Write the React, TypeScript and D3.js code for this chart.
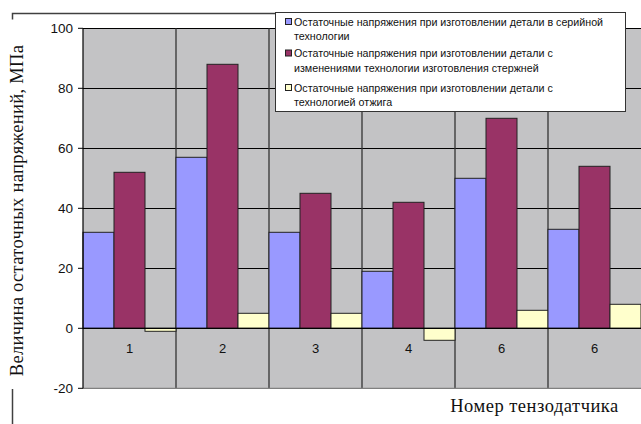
import React from "react";
import * as d3 from "d3";

const categories = ["1", "2", "3", "4", "6", "6"];
const serial = [32, 57, 32, 19, 50, 33];
const rods = [52, 88, 45, 42, 70, 54];
const annealing = [-1, 5, 5, -4, 6, 8];
const yTicks = [-20, 0, 20, 40, 60, 80, 100];

const seriesNames = [
  ["Остаточные напряжения при изготовлении детали в серийной", "технологии"],
  ["Остаточные напряжения при изготовлении детали с", "изменениями технологии изготовления стержней"],
  ["Остаточные напряжения при изготовлении детали с", "технологией отжига"],
];
const seriesColors = ["#9999FF", "#993366", "#FFFFCC"];
const seriesValues = [serial, rods, annealing];

const yTitle = "Величина остаточных напряжений, МПа";
const xTitle = "Номер тензодатчика";

const W = 641;
const H = 424;
const plot = { left: 83, right: 641, top: 28.3, bottom: 388.3 };

export default function App() {
  const y = d3.scaleLinear().domain([-20, 100]).range([plot.bottom, plot.top]);
  const x = d3
    .scaleBand<number>()
    .domain(categories.map((_, i) => i))
    .range([plot.left, plot.right])
    .padding(0);
  const xs = d3
    .scaleBand<number>()
    .domain(seriesValues.map((_, i) => i))
    .range([0, x.bandwidth()])
    .padding(0);

  const sans = "Arial, 'Liberation Sans', sans-serif";
  const serif = "'Times New Roman', 'Liberation Serif', serif";

  const boundaries = categories.map((_, i) => x(i)!).concat([plot.right]);

  return (
    <svg
      width={W}
      height={H}
      style={{ position: "absolute", left: 0, top: 0, background: "#fff" }}
    >
      {/* outer frame fragments */}
      <path d="M12.5,19.5 V13.5 H275" fill="none" stroke="#404040" strokeWidth={1.5} />
      <path d="M12.5,389 V424" fill="none" stroke="#404040" strokeWidth={1.5} />

      {/* plot background */}
      <rect
        x={plot.left}
        y={plot.top}
        width={plot.right - plot.left}
        height={plot.bottom - plot.top}
        fill="#C3C3C5"
      />
      {/* horizontal gridlines */}
      {yTicks
        .filter((t) => t > 0)
        .map((t) => (
          <line
            key={"g" + t}
            x1={plot.left}
            x2={plot.right}
            y1={Math.round(y(t)) + 0.5}
            y2={Math.round(y(t)) + 0.5}
            stroke="#000"
            strokeWidth={1}
          />
        ))}
      {/* vertical category lines */}
      {boundaries.slice(1, -1).map((b, i) => (
        <line
          key={"v" + i}
          x1={b}
          x2={b}
          y1={plot.top}
          y2={plot.bottom}
          stroke="#333"
          strokeWidth={1.3}
        />
      ))}
      {/* bars */}
      {categories.map((_, ci) =>
        seriesValues.map((vals, si) => {
          const v = vals[ci];
          const x0 = x(ci)! + xs(si)!;
          const y0 = y(Math.max(0, v));
          const y1 = y(Math.min(0, v));
          return (
            <rect
              key={ci + "-" + si}
              x={x0}
              y={y0}
              width={xs.bandwidth()}
              height={y1 - y0}
              fill={seriesColors[si]}
              stroke="#222"
              strokeWidth={1}
            />
          );
        })
      )}
      {/* plot border bottom */}
      <line
        x1={plot.left}
        x2={plot.right}
        y1={plot.bottom}
        y2={plot.bottom}
        stroke="#808080"
        strokeWidth={1.2}
      />
      {/* x axis at zero */}
      <line
        x1={plot.left}
        x2={plot.right}
        y1={y(0)}
        y2={y(0)}
        stroke="#000"
        strokeWidth={1.2}
      />
      {/* y axis */}
      <line
        x1={plot.left}
        x2={plot.left}
        y1={plot.top}
        y2={plot.bottom}
        stroke="#000"
        strokeWidth={1.2}
      />
      {yTicks.map((t) => (
        <g key={"t" + t}>
          <line
            x1={plot.left - 5}
            x2={plot.left}
            y1={y(t)}
            y2={y(t)}
            stroke="#000"
            strokeWidth={1}
          />
          <text
            x={plot.left - 10}
            y={y(t)}
            dy="0.36em"
            textAnchor="end"
            fontFamily={sans}
            fontSize={13.5}
            fill="#111"
          >
            {t}
          </text>
        </g>
      ))}
      {/* category labels */}
      {categories.map((c, i) => (
        <text
          key={"c" + i}
          x={x(i)! + x.bandwidth() / 2}
          y={y(0) + 25}
          textAnchor="middle"
          fontFamily={sans}
          fontSize={13}
          fill="#111"
        >
          {c}
        </text>
      ))}

      {/* legend */}
      <rect x={275.5} y={12.5} width={350} height={99} fill="#fff" stroke="#333" strokeWidth={1} />
      {seriesNames.map((lines, i) => {
        const cy = [22, 53.5, 88][i];
        return (
          <g key={"l" + i}>
            <rect x={285.5} y={cy - 3.5} width={6} height={6} fill={seriesColors[i]} stroke="#222" strokeWidth={1} />
            {lines.map((ln, j) => (
              <text
                key={j}
                x={294}
                y={cy + j * 14.5}
                dy="0.35em"
                fontFamily={sans}
                fontSize={10.7}
                fill="#111"
              >
                {ln}
              </text>
            ))}
          </g>
        );
      })}

      {/* axis titles */}
      <text
        transform={`translate(23,${(38 + 383) / 2}) rotate(-90)`}
        textAnchor="middle"
        fontFamily={serif}
        fontSize={18.5}
        letterSpacing={0.3}
        fill="#111"
      >
        {yTitle}
      </text>
      <text
        x={(449 + 620) / 2}
        y={412}
        textAnchor="middle"
        fontFamily={serif}
        fontSize={18.5}
        letterSpacing={0.5}
        fill="#111"
      >
        {xTitle}
      </text>
    </svg>
  );
}
